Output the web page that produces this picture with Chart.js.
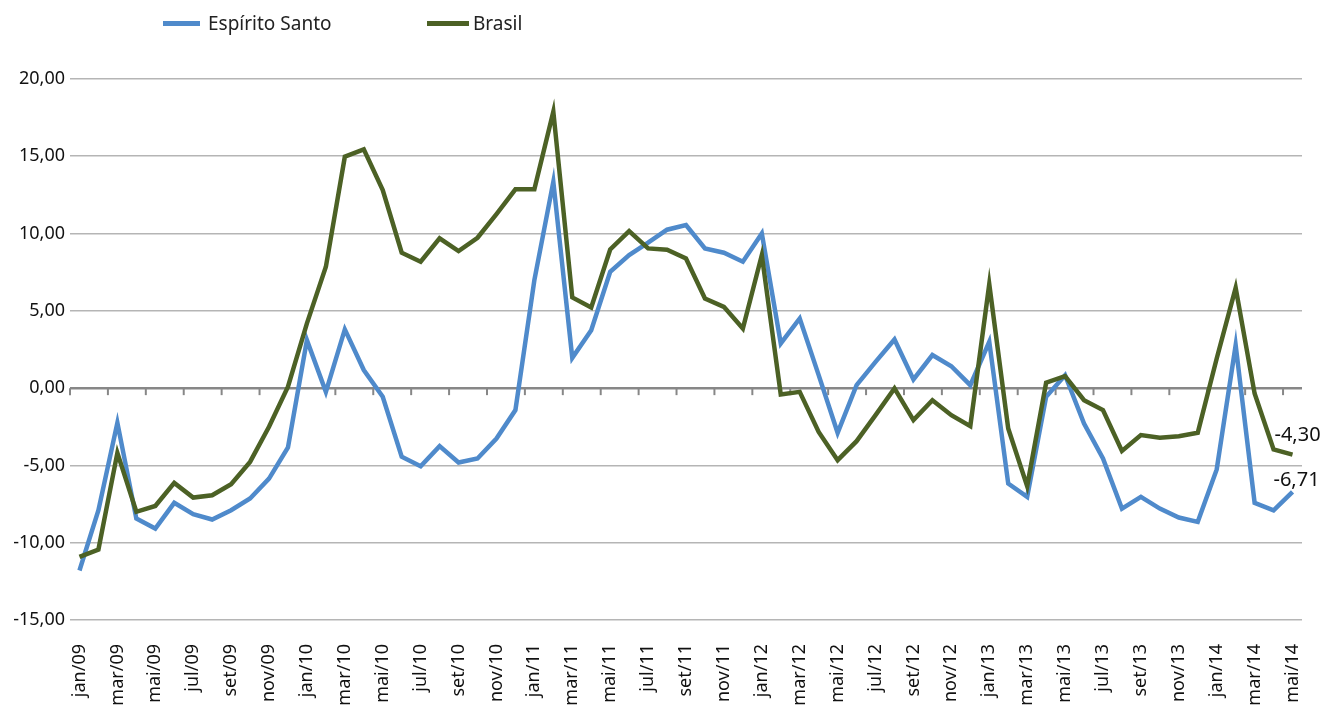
<!DOCTYPE html>
<html>
<head>
<meta charset="utf-8">
<script src="https://cdn.jsdelivr.net/npm/chart.js@4.4.1/dist/chart.umd.min.js"></script>
<style>
    body { margin: 0; background: #ffffff; }
    #wrap { position: relative; width: 1325px; height: 707px; }
    .item { position: absolute; top: 10px; display: flex; align-items: center; font-family: "Noto Sans", sans-serif; font-size: 19px; color: #222; }
    .swatch { height: 5px; }
</style>
</head>
<body>
<div id="wrap">
    <canvas id="chart" width="1325" height="707"></canvas>
</div>
<script>
// dados
const categorias = [
    "jan/09", "fev/09", "mar/09", "abr/09", "mai/09", "jun/09", "jul/09", "ago/09", "set/09", "out/09", "nov/09", "dez/09",
    "jan/10", "fev/10", "mar/10", "abr/10", "mai/10", "jun/10", "jul/10", "ago/10", "set/10", "out/10", "nov/10", "dez/10",
    "jan/11", "fev/11", "mar/11", "abr/11", "mai/11", "jun/11", "jul/11", "ago/11", "set/11", "out/11", "nov/11", "dez/11",
    "jan/12", "fev/12", "mar/12", "abr/12", "mai/12", "jun/12", "jul/12", "ago/12", "set/12", "out/12", "nov/12", "dez/12",
    "jan/13", "fev/13", "mar/13", "abr/13", "mai/13", "jun/13", "jul/13", "ago/13", "set/13", "out/13", "nov/13", "dez/13",
    "jan/14", "fev/14", "mar/14", "abr/14", "mai/14"
];

const espiritoSanto = [
    -11.80, -7.90, -2.24, -8.44, -9.08, -7.42, -8.16, -8.50, -7.90, -7.14, -5.85, -3.84,
    3.10, -0.24, 3.80, 1.17, -0.56, -4.44, -5.05, -3.75, -4.81, -4.55, -3.26, -1.42,
    6.99, 13.35, 1.96, 3.75, 7.53, 8.61, 9.41, 10.25, 10.55, 9.04, 8.76, 8.18,
    10.01, 2.89, 4.51, 0.84, -2.89, 0.19, 1.70, 3.15, 0.56, 2.14, 1.42, 0.19,
    3.00, -6.17, -7.03, -0.56, 0.84, -2.29, -4.55, -7.79, -7.03, -7.79, -8.37, -8.65,
    -5.26, 2.78, -7.42, -7.90, -6.71
];

const brasil = [
    -10.92, -10.44, -4.19, -8.00, -7.62, -6.13, -7.08, -6.93, -6.21, -4.77, -2.50, 0.09,
    4.19, 7.85, 14.97, 15.45, 12.82, 8.76, 8.18, 9.69, 8.87, 9.73, 11.26, 12.86,
    12.86, 17.89, 5.87, 5.22, 8.97, 10.16, 9.04, 8.95, 8.39, 5.80, 5.26, 3.86,
    8.61, -0.41, -0.24, -2.83, -4.66, -3.43, -1.75, -0.02, -2.07, -0.78, -1.75, -2.46,
    6.73, -2.61, -6.34, 0.35, 0.78, -0.78, -1.42, -4.06, -3.04, -3.21, -3.11, -2.89,
    1.92, 6.49, -0.35, -3.97, -4.30
];

const yMin = -15;
const yMax = 20;
const yPasso = 5;

const series = [
    { nome: "Espírito Santo", valores: espiritoSanto, cor: "#4f8acb" },
    { nome: "Brasil", valores: brasil, cor: "#4c6125" }
];

function formatar(v) {
    return v.toFixed(2).replace(".", ",");
}

// legenda (html)
const posLegenda = [
    { left: 163, sw: 37, gap: 8 },
    { left: 427, sw: 42, gap: 4 }
];
const wrap = document.getElementById("wrap");
series.forEach((s, i) => {
    const item = document.createElement("div");
    item.className = "item";
    item.style.left = posLegenda[i].left + "px";
    const sw = document.createElement("span");
    sw.className = "swatch";
    sw.style.width = posLegenda[i].sw + "px";
    sw.style.marginRight = posLegenda[i].gap + "px";
    sw.style.background = s.cor;
    const txt = document.createElement("span");
    txt.textContent = s.nome;
    item.appendChild(sw);
    item.appendChild(txt);
    wrap.appendChild(item);
});

// marcas do eixo na linha do zero
const marcasZero = {
    id: "marcasZero",
    beforeDatasetsDraw(chart) {
        const x = chart.scales.x;
        const y0 = chart.scales.y.getPixelForValue(0);
        const meio = (x.getPixelForValue(1) - x.getPixelForValue(0)) / 2;
        const c = chart.ctx;
        c.save();
        c.strokeStyle = "#878787";
        c.lineWidth = 2;
        for (let k = 0; k < categorias.length; k += 2) {
            const px = x.getPixelForValue(k) - meio;
            c.beginPath();
            c.moveTo(px, y0);
            c.lineTo(px, y0 + 7);
            c.stroke();
        }
        c.restore();
    }
};

// rótulo do último ponto
const rotuloFinal = {
    id: "rotuloFinal",
    afterDatasetsDraw(chart) {
        const c = chart.ctx;
        c.save();
        c.font = "20px 'Noto Sans'";
        c.fillStyle = "#111";
        c.textAlign = "center";
        c.textBaseline = "middle";
        const desloc = [{ dx: 4, dy: -12 }, { dx: 5, dy: -19 }];
        chart.data.datasets.forEach((ds, i) => {
            const meta = chart.getDatasetMeta(i);
            const pt = meta.data[meta.data.length - 1];
            const v = ds.data[ds.data.length - 1];
            c.fillText(formatar(v), pt.x + desloc[i].dx, pt.y + desloc[i].dy);
        });
        c.restore();
    }
};

const ctx = document.getElementById("chart").getContext("2d");

new Chart(ctx, {
    type: "line",
    data: {
        labels: categorias,
        datasets: series.map((s, i) => ({
            label: s.nome,
            data: s.valores,
            borderColor: s.cor,
            backgroundColor: s.cor,
            borderWidth: 4.5,
            pointRadius: 0,
            tension: 0,
            order: i === 0 ? 2 : 1
        }))
    },
    options: {
        responsive: false,
        animation: false,
        layout: {
            padding: { top: 79, right: 23, left: 0, bottom: 0 }
        },
        plugins: {
            legend: { display: false },
            tooltip: { enabled: false }
        },
        scales: {
            x: {
                offset: true,
                grid: { display: false },
                border: { display: false },
                afterFit: scale => {
                    scale.height = 87;
                    scale.paddingLeft = 0;
                    scale.paddingRight = 0;
                },
                ticks: {
                    autoSkip: false,
                    maxRotation: 90,
                    minRotation: 90,
                    padding: 16,
                    color: "#111",
                    font: { family: "Noto Sans", size: 18 },
                    callback: function (val, idx) {
                        return idx % 2 === 0 ? this.getLabelForValue(val) : null;
                    }
                }
            },
            y: {
                min: yMin,
                max: yMax,
                border: { display: false },
                afterFit: scale => { scale.width = 70; },
                grid: {
                    drawTicks: false,
                    color: c => c.tick.value === 0 ? "#878787" : "#b5b5b5",
                    lineWidth: c => c.tick.value === 0 ? 2.5 : 1.6
                },
                ticks: {
                    stepSize: yPasso,
                    padding: 5,
                    color: "#111",
                    font: { family: "Noto Sans", size: 18 },
                    callback: v => formatar(v)
                }
            }
        }
    },
    plugins: [marcasZero, rotuloFinal]
});
</script>
</body>
</html>
